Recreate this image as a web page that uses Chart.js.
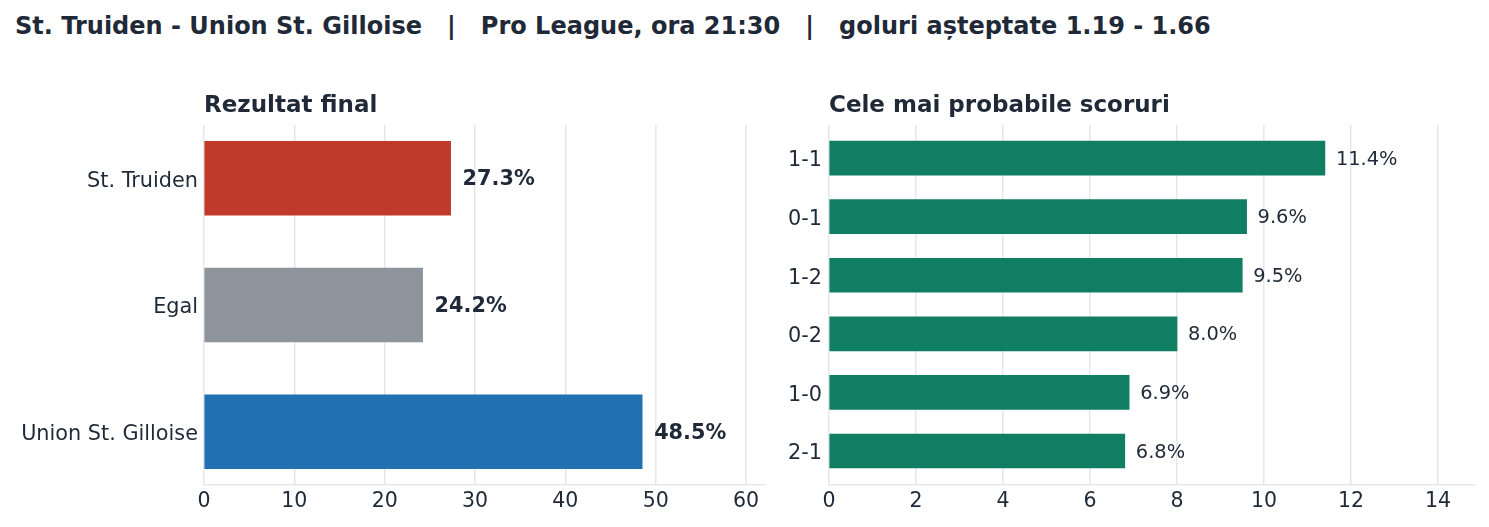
<!DOCTYPE html>
<html lang="ro">
<head>
<meta charset="UTF-8">
<title>St. Truiden - Union St. Gilloise</title>
<script src="https://cdn.jsdelivr.net/npm/chart.js"></script>
<style>
  html, body { margin: 0; padding: 0; background: #fff; }
  #page { position: relative; width: 1489px; height: 527px; overflow: hidden; }
  #title {
    position: absolute; left: 15px; top: 14px;
    font: bold 24px "DejaVu Sans", sans-serif; line-height: 24px;
    color: #1f2937; white-space: pre;
  }
  canvas { position: absolute; top: 0; }
</style>
</head>
<body>
<div id="page">
  <div id="title">St. Truiden - Union St. Gilloise   |   Pro League, ora 21:30   |   goluri așteptate 1.19 - 1.66</div>
  <canvas id="left" width="775" height="527" style="left:0"></canvas>
  <canvas id="right" width="714" height="527" style="left:775px"></canvas>
</div>

<script>
// rezultat final
const outcomeLabels = ['St. Truiden', 'Egal', 'Union St. Gilloise'];
const outcomeValues = [27.3, 24.2, 48.5];
const outcomeColors = ['#c0392b', '#8e949b', '#2170b1'];
const outcomeTicks = [0, 10, 20, 30, 40, 50, 60];

// cele mai probabile scoruri
const scoreLabels = ['1-1', '0-1', '1-2', '0-2', '1-0', '2-1'];
const scoreValues = [11.4, 9.6, 9.5, 8.0, 6.9, 6.8];
const scoreColor = '#107e62';
const scoreTicks = [0, 2, 4, 6, 8, 10, 12, 14];

const FONT = '"DejaVu Sans", sans-serif';
const INK = '#1f2937';
const GRID = '#e5e7eb';

// subplot title + value labels at bar ends
const barText = {
  id: 'barText',
  afterDatasetsDraw(chart, args, opts) {
    const ctx = chart.ctx;
    const area = chart.chartArea;
    ctx.save();
    ctx.fillStyle = INK;
    ctx.textAlign = 'left';
    ctx.textBaseline = 'alphabetic';
    ctx.font = 'bold ' + opts.titleSize + 'px ' + FONT;
    ctx.fillText(opts.title, area.left, opts.titleY);

    ctx.font = opts.valueWeight + ' ' + opts.valueSize + 'px ' + FONT;
    ctx.textBaseline = 'middle';
    const meta = chart.getDatasetMeta(0);
    const vals = chart.data.datasets[0].data;
    meta.data.forEach((bar, i) => {
      ctx.fillText(vals[i].x.toFixed(1) + '%', bar.x + opts.gap, bar.y + 1.5);
    });
    ctx.restore();
  }
};

function makeChart(id, cfg) {
  return new Chart(document.getElementById(id), {
    type: 'bar',
    data: {
      datasets: [{
        data: cfg.values.map((v, i) => ({ x: v, y: i })),
        backgroundColor: cfg.colors,
        barThickness: cfg.thickness,
        borderWidth: 0
      }]
    },
    options: {
      indexAxis: 'y',
      responsive: false,
      animation: false,
      devicePixelRatio: 1,
      layout: { padding: { top: 125, right: cfg.padRight, bottom: 0, left: 0 } },
      plugins: {
        legend: { display: false },
        tooltip: { enabled: false },
        barText: {
          title: cfg.title, titleSize: 23, titleY: 112,
          valueSize: cfg.valueSize, valueWeight: cfg.valueWeight, gap: cfg.gap
        }
      },
      scales: {
        x: {
          type: 'linear',
          min: 0,
          max: cfg.xMax,
          afterBuildTicks: s => { s.ticks = cfg.ticks.map(v => ({ value: v })); },
          afterFit: s => { s.height = 42; },
          grid: { color: GRID, lineWidth: 1.5, drawTicks: false },
          border: { color: GRID, width: 1.5 },
          ticks: { color: INK, padding: 4, font: { family: FONT, size: 20.5 } }
        },
        y: {
          type: 'linear',
          reverse: true,
          offset: false,
          min: cfg.yMin,
          max: cfg.yMax,
          afterBuildTicks: s => { s.ticks = cfg.labels.map((_, i) => ({ value: i })); },
          afterFit: s => { s.width = cfg.yWidth; },
          grid: { display: false, drawTicks: false, offset: false },
          border: { display: false },
          ticks: {
            color: INK, padding: cfg.yPad, labelOffset: 3,
            font: { family: FONT, size: cfg.ySize },
            callback: v => cfg.labels[v]
          }
        }
      }
    },
    plugins: [barText]
  });
}

makeChart('left', {
  title: 'Rezultat final',
  labels: outcomeLabels, values: outcomeValues, colors: outcomeColors,
  ticks: outcomeTicks, xMax: 62.1, yMin: -0.42, yMax: 2.42,
  thickness: 74, yWidth: 204, padRight: 10, yPad: 6, ySize: 20.8,
  valueSize: 20.8, valueWeight: 'bold', gap: 12
});

makeChart('right', {
  title: 'Cele mai probabile scoruri',
  labels: scoreLabels, values: scoreValues, colors: scoreColor,
  ticks: scoreTicks, xMax: 14.85, yMin: -0.565, yMax: 5.58,
  thickness: 34, yWidth: 54, padRight: 14, yPad: 7, ySize: 20.8,
  valueSize: 19.4, valueWeight: 'normal', gap: 11
});
</script>
</body>
</html>
